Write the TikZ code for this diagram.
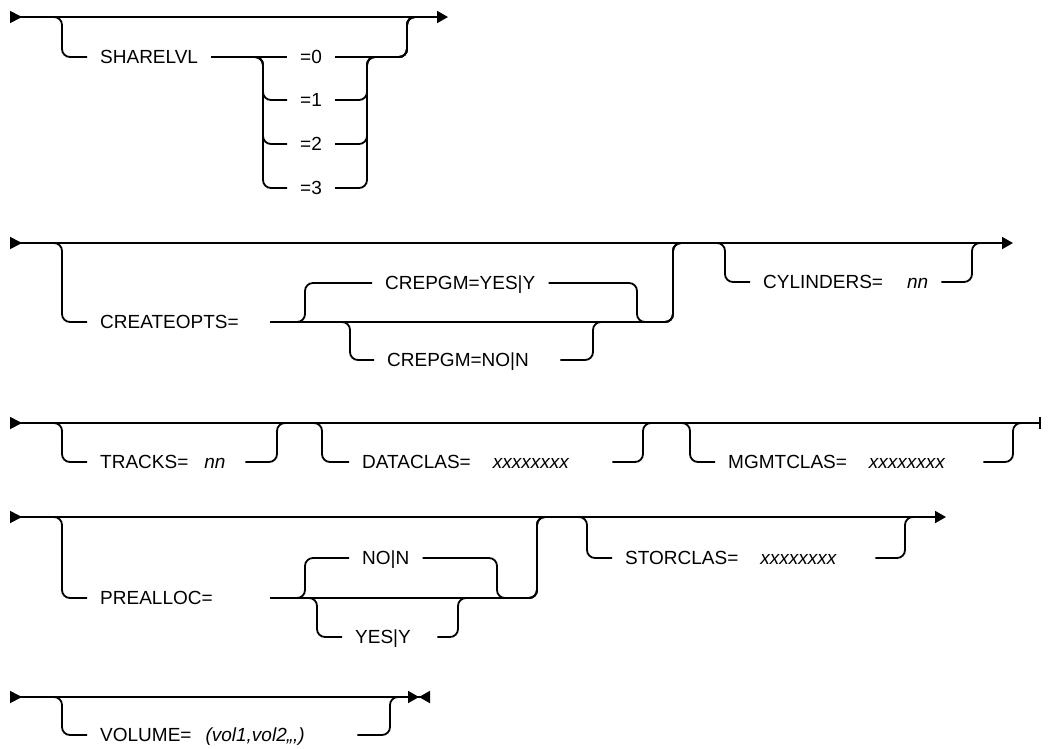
\documentclass[tikz,border=0pt]{standalone}
\usepackage{fontspec}
\setmainfont{Liberation Sans}
\usetikzlibrary{arrows.meta}

\begin{document}
\begin{tikzpicture}[
    x=1pt, y=-1pt,
    rail/.style={line width=1.8pt, rounded corners=8pt},
    railgo/.style={rail, arrows={{Triangle[reversed,length=12pt,width=12pt]}-{Triangle[length=11pt,width=12pt]}}},
    railcut/.style={rail, arrows={{Triangle[reversed,length=12pt,width=12pt]}-{Bar[width=12pt]}}},
    railstop/.style={rail, arrows={{Triangle[reversed,length=12pt,width=12pt]}-{Triangle[length=11pt,width=12pt] Triangle[reversed,length=11pt,width=12pt]}}},
    kw/.style={
        anchor=west,
        inner xsep=13pt,
        inner ysep=0pt,
        text height=13.7pt,
        text depth=0pt,
        align=left,
        font=\fontsize{19}{22}\selectfont
    }
]
    \useasboundingbox (0,0) rectangle (1052,748);

    % SHARELVL
    \coordinate (r1a) at (10,17);
    \coordinate (r1b) at (448,17);
    \coordinate (r1z) at (430,17);
    \node[kw] (sharelvl) at (87,57) {SHARELVL};
    \node[kw] (lvl0) at (287,57) {=0};
    \node[kw] (lvl1) at (287,100) {=1};
    \node[kw] (lvl2) at (287,144) {=2};
    \node[kw] (lvl3) at (287,188) {=3};

    \draw[railgo] (r1a) -- (r1b);
    \draw[rail] (r1a) -- (62,17) |- (sharelvl.west);
    \draw[rail] (sharelvl.east) -- (lvl0.west);
    \draw[rail] (sharelvl.east) -- (263,57) |- (lvl1.west);
    \draw[rail] (sharelvl.east) -- (263,57) |- (lvl2.west);
    \draw[rail] (sharelvl.east) -- (263,57) |- (lvl3.west);
    \draw[rail] (lvl0.east) -| (407,17) -- (r1z);
    \draw[rail] (lvl1.east) -| (367,57) -| (407,17) -- (r1z);
    \draw[rail] (lvl2.east) -| (367,57) -| (407,17) -- (r1z);
    \draw[rail] (lvl3.east) -| (367,57) -| (407,17) -- (r1z);

    % CREATEOPTS, CYLINDERS
    \coordinate (r2a) at (10,243);
    \coordinate (r2b) at (1013,243);
    \coordinate (r2z) at (995,243);
    \node[kw, text width=157pt] (createopts) at (87,322) {CREATEOPTS=};
    \node[kw] (crepgmyes) at (372,283) {CREPGM=YES|Y};
    \node[kw, text width=160pt] (crepgmno) at (374,360) {CREPGM=NO|N};
    \node[kw] (cylinders) at (750,282) {CYLINDERS=\hspace{24pt}\textit{nn}};

    \draw[railgo] (r2a) -- (r2b);
    \draw[rail] (r2a) -- (62,243) |- (createopts.west);
    \draw[rail] (createopts.east) -| (673,243) -- (r2z);
    \draw[rail] (createopts.east) -- (305,322) |- (crepgmyes.west);
    \draw[rail] (crepgmyes.east) -| (637,322) -| (673,243) -- (r2z);
    \draw[rail] (createopts.east) -- (350,322) |- (crepgmno.west);
    \draw[rail] (crepgmno.east) -| (593,322) -| (673,243) -- (r2z);
    \draw[rail] (r2a) -- (725,243) |- (cylinders.west);
    \draw[rail] (cylinders.east) -| (972,243) -- (r2z);

    % TRACKS, DATACLAS, MGMTCLAS
    \coordinate (r3a) at (10,423);
    \coordinate (r3b) at (1041,423);
    \coordinate (r3z) at (1030,423);
    \node[kw, text width=132pt] (tracks) at (87,462) {TRACKS=\hspace{16pt}\textit{nn}};
    \node[kw, text width=237pt] (dataclas) at (349,462) {DATACLAS=\hspace{22pt}\textit{xxxxxxxx}};
    \node[kw, text width=242pt] (mgmtclas) at (715,462) {MGMTCLAS=\hspace{22pt}\textit{xxxxxxxx}};

    \draw[railcut] (r3a) -- (r3b);
    \draw[rail] (r3a) -- (62,423) |- (tracks.west);
    \draw[rail] (tracks.east) -| (277,423) -- (r3z);
    \draw[rail] (r3a) -- (322,423) |- (dataclas.west);
    \draw[rail] (dataclas.east) -| (643,423) -- (r3z);
    \draw[rail] (r3a) -- (690,423) |- (mgmtclas.west);
    \draw[rail] (mgmtclas.east) -| (1013,423) -- (r3z);

    % PREALLOC, STORCLAS
    \coordinate (r4a) at (10,517);
    \coordinate (r4b) at (946,517);
    \coordinate (r4z) at (930,517);
    \node[kw, text width=157pt] (prealloc) at (87,598) {PREALLOC=};
    \node[kw] (allocno) at (349,558) {NO|N};
    \node[kw, text width=69pt] (allocyes) at (342,637) {YES|Y};
    \node[kw, text width=237pt] (storclas) at (612,558) {STORCLAS=\hspace{22pt}\textit{xxxxxxxx}};

    \draw[railgo] (r4a) -- (r4b);
    \draw[rail] (r4a) -- (62,517) |- (prealloc.west);
    \draw[rail] (prealloc.east) -| (537,517) -- (r4z);
    \draw[rail] (prealloc.east) -- (305,598) |- (allocno.west);
    \draw[rail] (allocno.east) -| (497,598) -| (537,517) -- (r4z);
    \draw[rail] (prealloc.east) -- (317,598) |- (allocyes.west);
    \draw[rail] (allocyes.east) -| (458,598) -| (537,517) -- (r4z);
    \draw[rail] (r4a) -- (587,517) |- (storclas.west);
    \draw[rail] (storclas.east) -| (905,517) -- (r4z);

    % VOLUME
    \coordinate (r5a) at (10,697);
    \coordinate (r5b) at (430,697);
    \coordinate (r5z) at (400,697);
    \node[kw, text width=244pt] (volume) at (87,735) {VOLUME=\hspace{14pt}\textit{(vol1,vol2,,,)}};

    \draw[railstop] (r5a) -- (r5b);
    \draw[rail] (r5a) -- (62,697) |- (volume.west);
    \draw[rail] (volume.east) -| (390,697) -- (r5z);
\end{tikzpicture}
\end{document}
